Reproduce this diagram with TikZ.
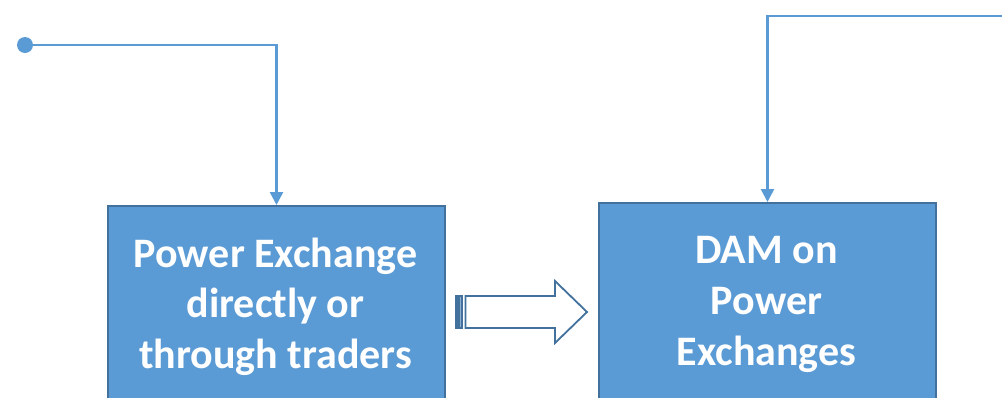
\documentclass[tikz,border=0pt]{standalone}
\usepackage{fontspec}
\setmainfont{Carlito}
\usetikzlibrary{arrows.meta}
\definecolor{lineblue}{HTML}{5B9BD5}
\definecolor{fillblue}{HTML}{5B9BD5}
\definecolor{edgeblue}{HTML}{41719C}
\definecolor{stripelight}{HTML}{8FB0CC}
\tikzset{
  box/.style={draw=edgeblue, fill=fillblue, line width=2pt, minimum width=337pt, minimum height=240pt, anchor=north west, inner sep=0pt},
  conn/.style={draw=lineblue, line width=2.5pt, -{Triangle[width=13pt,length=13pt]}},
  txt/.style={text=white, font=\fontsize{42}{50}\selectfont\bfseries, anchor=base, inner sep=0pt},
  blockarrow/.style={draw=edgeblue, line width=1.8pt, fill=white, line join=miter},
  stripe/.style={draw=edgeblue, line width=1.2pt, fill=edgeblue},
}
\begin{document}
\begin{tikzpicture}[x=1pt,y=-1pt]
\useasboundingbox (0,0) rectangle (1002,397);
\clip (0,0) rectangle (1002,397);
\node[box] (pe) at (107,205) {};
\node[box] (dam) at (598,202) {};
\coordinate (s) at (25,45);
\coordinate (e) at (1006,16);
\fill[lineblue] (s) circle (8pt);
\draw[conn] (s) -| (pe.north);
\draw[conn] (e) -| (dam.north);
\node[txt] (pe1) at (275.5,267) {Power Exchange};
\node[txt] (pe2) at (275.5,317) {directly or};
\node[txt] (pe3) at (275.5,368) {through traders};
\node[txt] (d1) at (766.5,263) {DAM on};
\node[txt] (d2) at (766.5,314) {Power};
\node[txt] (d3) at (766.5,365) {Exchanges};
\draw[blockarrow] (465.5,296) -- (555,296) -- (555,281) -- (587,312) -- (555,343) -- (555,328) -- (465.5,328) -- cycle;
\draw[stripe] (455.5,296) rectangle (462.5,328);
\draw[stripelight, line width=0.8pt] (460,297) -- (460,327);
\end{tikzpicture}
\end{document}
